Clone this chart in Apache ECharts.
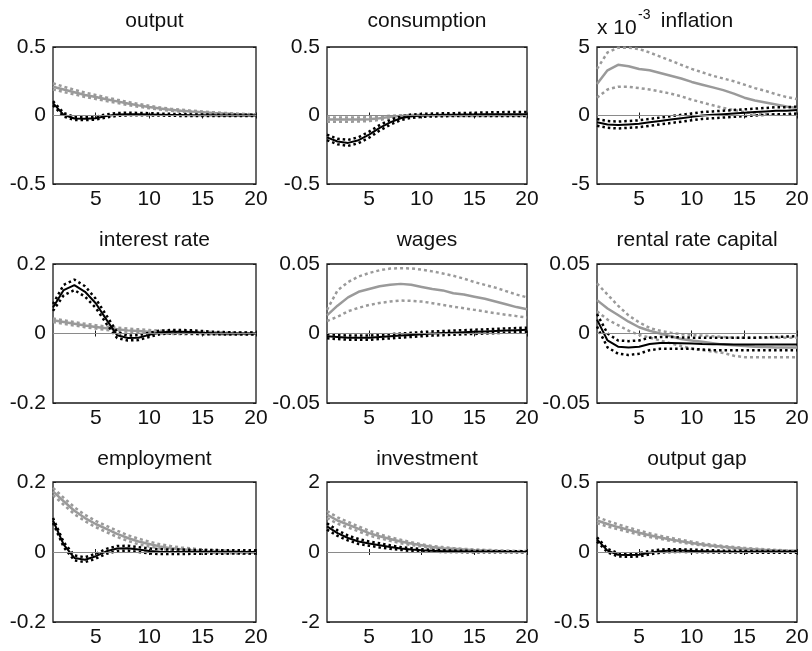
<!DOCTYPE html>
<html>
<head>
<meta charset="utf-8">
<script src="https://cdn.jsdelivr.net/npm/echarts@6/dist/echarts.min.js"></script>
<style>
  html, body { margin: 0; padding: 0; background: #fff; }
  #chart { width: 812px; height: 651px; }
</style>
</head>
<body>
<div id="chart"></div>
<script>
// Impulse responses over 20 quarters: grey = model A (mean and bands), black = model B (mean and bands)
const horizons = [1, 2, 3, 4, 5, 6, 7, 8, 9, 10, 11, 12, 13, 14, 15, 16, 17, 18, 19, 20];
const xTicks = [5, 10, 15, 20];

// output
const outGrayMid = [0.21, 0.19, 0.17, 0.15, 0.135, 0.118, 0.103, 0.088, 0.074, 0.062, 0.051, 0.042, 0.035, 0.029, 0.024, 0.019, 0.015, 0.011, 0.008, 0.006];
const outGrayHi  = [0.235, 0.21, 0.188, 0.167, 0.15, 0.132, 0.115, 0.099, 0.084, 0.071, 0.059, 0.05, 0.042, 0.035, 0.029, 0.024, 0.019, 0.015, 0.011, 0.009];
const outGrayLo  = [0.19, 0.172, 0.154, 0.135, 0.121, 0.105, 0.091, 0.077, 0.064, 0.053, 0.043, 0.035, 0.028, 0.023, 0.019, 0.014, 0.011, 0.008, 0.005, 0.003];
const outBlackMid = [0.09, 0.005, -0.022, -0.024, -0.02, -0.004, 0.007, 0.01, 0.01, 0.008, 0.006, 0.004, 0.003, 0.002, 0.001, 0.001, 0, 0, 0, 0];
const outBlackHi  = [0.105, 0.018, -0.01, -0.012, -0.008, 0.008, 0.018, 0.02, 0.019, 0.017, 0.014, 0.012, 0.01, 0.008, 0.007, 0.006, 0.005, 0.005, 0.005, 0.005];
const outBlackLo  = [0.075, -0.008, -0.032, -0.034, -0.03, -0.014, -0.003, 0.001, 0.002, 0.001, 0, -0.002, -0.003, -0.003, -0.004, -0.004, -0.004, -0.004, -0.004, -0.004];

// consumption
const conGrayMid = [-0.03, -0.03, -0.03, -0.03, -0.028, -0.02, -0.01, -0.004, -0.001, 0, 0, 0, 0, 0, 0, 0, 0, 0, 0, 0];
const conGrayHi  = [-0.015, -0.015, -0.015, -0.015, -0.013, -0.008, -0.002, 0.002, 0.003, 0.003, 0.003, 0.003, 0.003, 0.003, 0.003, 0.003, 0.003, 0.003, 0.003, 0.003];
const conGrayLo  = [-0.045, -0.045, -0.045, -0.044, -0.041, -0.032, -0.018, -0.009, -0.005, -0.003, -0.003, -0.003, -0.003, -0.003, -0.003, -0.003, -0.003, -0.003, -0.003, -0.003];
const conBlackMid = [-0.16, -0.19, -0.2, -0.18, -0.14, -0.09, -0.05, -0.02, -0.005, 0, 0.003, 0.005, 0.006, 0.007, 0.008, 0.009, 0.01, 0.01, 0.01, 0.01];
const conBlackHi  = [-0.14, -0.17, -0.178, -0.158, -0.118, -0.07, -0.032, -0.006, 0.007, 0.011, 0.014, 0.016, 0.017, 0.018, 0.02, 0.022, 0.024, 0.025, 0.026, 0.026];
const conBlackLo  = [-0.18, -0.21, -0.222, -0.202, -0.162, -0.11, -0.068, -0.034, -0.017, -0.01, -0.007, -0.005, -0.004, -0.003, -0.003, -0.003, -0.003, -0.003, -0.003, -0.003];

// inflation, in units of 10^-3
const infGrayMid = [2.3, 3.3, 3.7, 3.6, 3.4, 3.3, 3.1, 2.9, 2.7, 2.45, 2.25, 2.05, 1.85, 1.6, 1.3, 1.1, 0.95, 0.8, 0.65, 0.55];
const infGrayHi  = [3.4, 4.6, 4.95, 4.95, 4.85, 4.6, 4.3, 4.0, 3.7, 3.4, 3.15, 2.9, 2.7, 2.5, 2.25, 2.0, 1.8, 1.55, 1.35, 1.2];
const infGrayLo  = [1.3, 1.9, 2.1, 2.1, 2.0, 1.9, 1.75, 1.6, 1.4, 1.15, 0.95, 0.75, 0.55, 0.4, 0.25, 0.15, 0.1, 0.05, 0.05, 0.05];
const infBlackMid = [-0.5, -0.65, -0.7, -0.65, -0.6, -0.5, -0.4, -0.3, -0.2, -0.1, 0, 0.05, 0.1, 0.15, 0.2, 0.25, 0.3, 0.35, 0.35, 0.4];
const infBlackHi  = [-0.25, -0.4, -0.45, -0.4, -0.35, -0.25, -0.15, -0.05, 0.05, 0.15, 0.25, 0.3, 0.35, 0.4, 0.45, 0.5, 0.55, 0.6, 0.6, 0.65];
const infBlackLo  = [-0.75, -0.9, -0.95, -0.9, -0.85, -0.75, -0.65, -0.55, -0.45, -0.35, -0.25, -0.2, -0.15, -0.1, -0.05, 0, 0.05, 0.1, 0.1, 0.15];

// interest rate
const irGrayMid = [0.038, 0.033, 0.028, 0.023, 0.019, 0.015, 0.012, 0.009, 0.007, 0.005, 0.004, 0.003, 0.002, 0.002, 0.001, 0.001, 0.001, 0, 0, 0];
const irGrayHi  = [0.043, 0.038, 0.033, 0.028, 0.024, 0.02, 0.017, 0.014, 0.012, 0.01, 0.008, 0.007, 0.006, 0.005, 0.004, 0.004, 0.003, 0.003, 0.003, 0.003];
const irGrayLo  = [0.033, 0.028, 0.023, 0.018, 0.014, 0.01, 0.007, 0.005, 0.003, 0.001, 0, -0.001, -0.002, -0.002, -0.002, -0.002, -0.002, -0.002, -0.002, -0.002];
const irBlackMid = [0.075, 0.125, 0.139, 0.12, 0.087, 0.04, -0.005, -0.013, -0.012, -0.004, 0.003, 0.005, 0.005, 0.004, 0.002, 0.001, 0, 0, 0, 0];
const irBlackHi  = [0.085, 0.14, 0.155, 0.136, 0.1, 0.052, 0.004, -0.006, -0.005, 0.002, 0.008, 0.01, 0.01, 0.009, 0.007, 0.005, 0.004, 0.003, 0.003, 0.003];
const irBlackLo  = [0.065, 0.11, 0.125, 0.106, 0.074, 0.028, -0.013, -0.02, -0.019, -0.01, -0.002, 0, 0, 0, -0.002, -0.002, -0.003, -0.003, -0.003, -0.003];

// wages
const wgGrayMid = [0.013, 0.02, 0.026, 0.03, 0.032, 0.034, 0.035, 0.0357, 0.035, 0.0335, 0.032, 0.031, 0.029, 0.028, 0.0265, 0.025, 0.023, 0.021, 0.019, 0.0175];
const wgGrayHi  = [0.017, 0.031, 0.037, 0.041, 0.0435, 0.0455, 0.0467, 0.047, 0.0468, 0.046, 0.0447, 0.0432, 0.0415, 0.0395, 0.037, 0.035, 0.033, 0.0305, 0.028, 0.026];
const wgGrayLo  = [0.009, 0.012, 0.016, 0.0185, 0.0205, 0.022, 0.023, 0.0237, 0.0235, 0.023, 0.0218, 0.0205, 0.0193, 0.0182, 0.017, 0.0158, 0.0146, 0.0135, 0.0125, 0.0115];
const wgBlackMid = [-0.002, -0.0025, -0.003, -0.003, -0.003, -0.0025, -0.002, -0.0015, -0.001, -0.0005, 0, 0.0003, 0.0006, 0.0009, 0.0012, 0.0015, 0.0018, 0.0021, 0.0024, 0.0027];
const wgBlackHi  = [-0.0005, -0.001, -0.0015, -0.0015, -0.0015, -0.001, -0.0005, 0, 0.0005, 0.001, 0.0015, 0.0018, 0.0021, 0.0024, 0.0027, 0.003, 0.0033, 0.0036, 0.0039, 0.0042];
const wgBlackLo  = [-0.0035, -0.004, -0.0045, -0.0045, -0.0045, -0.004, -0.0035, -0.003, -0.0025, -0.002, -0.0015, -0.0012, -0.0009, -0.0006, -0.0003, 0, 0.0003, 0.0006, 0.0009, 0.0012];

// rental rate of capital
const rrGrayMid = [0.024, 0.018, 0.0133, 0.0085, 0.0045, 0.002, 0, -0.002, -0.004, -0.005, -0.006, -0.007, -0.008, -0.0085, -0.009, -0.0095, -0.0098, -0.01, -0.01, -0.01];
const rrGrayHi  = [0.036, 0.028, 0.02, 0.013, 0.008, 0.004, 0.002, 0.0005, -0.0005, -0.001, -0.0015, -0.002, -0.0025, -0.003, -0.003, -0.003, -0.003, -0.003, -0.003, -0.003];
const rrGrayLo  = [0.016, 0.01, 0.006, 0.002, -0.001, -0.003, -0.005, -0.007, -0.009, -0.011, -0.012, -0.013, -0.014, -0.016, -0.017, -0.017, -0.017, -0.017, -0.017, -0.017];
const rrBlackMid = [0.01, -0.005, -0.0095, -0.01, -0.0095, -0.0075, -0.0068, -0.0068, -0.007, -0.0072, -0.0075, -0.0077, -0.0078, -0.008, -0.008, -0.008, -0.008, -0.008, -0.008, -0.008];
const rrBlackHi  = [0.014, 0.0, -0.005, -0.0055, -0.005, -0.003, -0.0025, -0.0025, -0.0028, -0.003, -0.003, -0.003, -0.003, -0.003, -0.003, -0.003, -0.0028, -0.0025, -0.0022, -0.002];
const rrBlackLo  = [0.005, -0.01, -0.0145, -0.0155, -0.0145, -0.012, -0.011, -0.011, -0.011, -0.011, -0.0115, -0.012, -0.012, -0.012, -0.012, -0.012, -0.012, -0.012, -0.012, -0.012];

// employment
const emGrayMid = [0.173, 0.145, 0.118, 0.097, 0.08, 0.066, 0.052, 0.04, 0.03, 0.023, 0.016, 0.011, 0.008, 0.005, 0.003, 0.002, 0.001, -0.001, -0.002, -0.002];
const emGrayHi  = [0.183, 0.155, 0.128, 0.106, 0.089, 0.075, 0.061, 0.048, 0.038, 0.03, 0.022, 0.017, 0.013, 0.01, 0.007, 0.005, 0.004, 0.002, 0.001, 0.001];
const emGrayLo  = [0.163, 0.135, 0.108, 0.088, 0.071, 0.057, 0.043, 0.032, 0.022, 0.016, 0.01, 0.005, 0.003, 0.0, -0.001, -0.002, -0.003, -0.004, -0.005, -0.005];
const emBlackMid = [0.09, 0.021, -0.017, -0.022, -0.012, 0.002, 0.01, 0.011, 0.007, 0.003, 0.001, 0, 0, 0, 0, 0, 0, 0, 0, 0];
const emBlackHi  = [0.097, 0.028, -0.01, -0.015, -0.005, 0.009, 0.017, 0.018, 0.014, 0.01, 0.008, 0.007, 0.007, 0.006, 0.006, 0.006, 0.005, 0.005, 0.005, 0.005];
const emBlackLo  = [0.083, 0.014, -0.024, -0.029, -0.019, -0.005, 0.003, 0.004, 0.0, -0.004, -0.006, -0.006, -0.006, -0.005, -0.005, -0.005, -0.005, -0.004, -0.004, -0.004];

// investment
const invGrayMid = [1.07, 0.9, 0.78, 0.66, 0.54, 0.45, 0.37, 0.3, 0.24, 0.19, 0.14, 0.11, 0.09, 0.07, 0.05, 0.04, 0.03, 0.02, 0.015, 0.01];
const invGrayHi  = [1.17, 0.99, 0.86, 0.73, 0.61, 0.51, 0.42, 0.35, 0.28, 0.22, 0.17, 0.14, 0.11, 0.09, 0.07, 0.06, 0.05, 0.04, 0.03, 0.03];
const invGrayLo  = [0.97, 0.81, 0.7, 0.59, 0.47, 0.39, 0.32, 0.25, 0.2, 0.16, 0.11, 0.08, 0.07, 0.05, 0.03, 0.02, 0.01, 0, 0, -0.01];
const invBlackMid = [0.73, 0.54, 0.4, 0.3, 0.24, 0.19, 0.14, 0.1, 0.07, 0.05, 0.035, 0.025, 0.02, 0.015, 0.01, 0.008, 0.006, 0.004, 0.003, 0.002];
const invBlackHi  = [0.82, 0.62, 0.47, 0.37, 0.3, 0.25, 0.19, 0.14, 0.11, 0.08, 0.06, 0.05, 0.04, 0.035, 0.03, 0.025, 0.02, 0.02, 0.02, 0.02];
const invBlackLo  = [0.64, 0.46, 0.33, 0.23, 0.18, 0.13, 0.09, 0.06, 0.03, 0.02, 0.01, 0, 0, -0.005, -0.01, -0.01, -0.01, -0.01, -0.01, -0.01];

// output gap
const ogGrayMid = [0.225, 0.2, 0.178, 0.158, 0.138, 0.12, 0.104, 0.09, 0.077, 0.065, 0.054, 0.045, 0.037, 0.03, 0.024, 0.019, 0.015, 0.011, 0.008, 0.006];
const ogGrayHi  = [0.25, 0.222, 0.197, 0.175, 0.153, 0.134, 0.116, 0.101, 0.087, 0.074, 0.062, 0.052, 0.043, 0.036, 0.029, 0.024, 0.019, 0.015, 0.011, 0.009];
const ogGrayLo  = [0.205, 0.182, 0.162, 0.143, 0.124, 0.107, 0.093, 0.08, 0.068, 0.057, 0.047, 0.039, 0.031, 0.025, 0.019, 0.015, 0.011, 0.008, 0.005, 0.003];
const ogBlackMid = [0.09, 0.01, -0.02, -0.022, -0.02, -0.005, 0.006, 0.01, 0.01, 0.008, 0.006, 0.004, 0.003, 0.002, 0.001, 0.001, 0.001, 0.001, 0.001, 0.001];
const ogBlackHi  = [0.105, 0.022, -0.008, -0.01, -0.008, 0.007, 0.017, 0.02, 0.019, 0.017, 0.014, 0.012, 0.01, 0.009, 0.008, 0.008, 0.007, 0.007, 0.007, 0.007];
const ogBlackLo  = [0.075, -0.002, -0.032, -0.034, -0.032, -0.017, -0.005, 0.0, 0.001, 0.0, -0.002, -0.003, -0.004, -0.004, -0.005, -0.005, -0.005, -0.005, -0.005, -0.005];

// panel definitions (title, y-range, and the six response curves)
const panels = [
  { title: 'output',              yMin: -0.5,  yMax: 0.5,  yStep: 0.5,  gray: [outGrayLo, outGrayMid, outGrayHi], black: [outBlackLo, outBlackMid, outBlackHi] },
  { title: 'consumption',         yMin: -0.5,  yMax: 0.5,  yStep: 0.5,  gray: [conGrayLo, conGrayMid, conGrayHi], black: [conBlackLo, conBlackMid, conBlackHi] },
  { title: 'inflation',           yMin: -5,    yMax: 5,    yStep: 5,    gray: [infGrayLo, infGrayMid, infGrayHi], black: [infBlackLo, infBlackMid, infBlackHi], exponent: '-3' },
  { title: 'interest rate',       yMin: -0.2,  yMax: 0.2,  yStep: 0.2,  gray: [irGrayLo, irGrayMid, irGrayHi],    black: [irBlackLo, irBlackMid, irBlackHi] },
  { title: 'wages',               yMin: -0.05, yMax: 0.05, yStep: 0.05, gray: [wgGrayLo, wgGrayMid, wgGrayHi],    black: [wgBlackLo, wgBlackMid, wgBlackHi] },
  { title: 'rental rate capital', yMin: -0.05, yMax: 0.05, yStep: 0.05, gray: [rrGrayLo, rrGrayMid, rrGrayHi],    black: [rrBlackLo, rrBlackMid, rrBlackHi] },
  { title: 'employment',          yMin: -0.2,  yMax: 0.2,  yStep: 0.2,  gray: [emGrayLo, emGrayMid, emGrayHi],    black: [emBlackLo, emBlackMid, emBlackHi] },
  { title: 'investment',          yMin: -2,    yMax: 2,    yStep: 2,    gray: [invGrayLo, invGrayMid, invGrayHi], black: [invBlackLo, invBlackMid, invBlackHi] },
  { title: 'output gap',          yMin: -0.5,  yMax: 0.5,  yStep: 0.5,  gray: [ogGrayLo, ogGrayMid, ogGrayHi],    black: [ogBlackLo, ogBlackMid, ogBlackHi] }
];

// layout of the 3x3 grid (pixels)
const colLeft = [53, 327, 597];
const colWidth = [203, 200, 200];
const rowTop = [47, 264, 482];
const rowHeight = [137, 139, 140];
const titleY = [21, 240, 459];

const FONT = '"Liberation Sans", Arial, Helvetica, sans-serif';
const FONT_SIZE = 21;
const GRAY = '#9a9a9a';
const BLACK = '#000';

const toPoints = arr => horizons.map((h, i) => [h, arr[i]]);

const grids = [], xAxes = [], yAxes = [], series = [], graphics = [];

panels.forEach((p, k) => {
  const r = Math.floor(k / 3), c = k % 3;
  grids.push({
    left: colLeft[c], top: rowTop[r], width: colWidth[c], height: rowHeight[r],
    show: true, borderColor: '#1a1a1a', borderWidth: 1.3, backgroundColor: '#fff'
  });
  const tick = { show: true, inside: true, length: 3, lineStyle: { color: '#1a1a1a', width: 1 } };
  // bottom x axis with labels
  xAxes.push({
    gridIndex: k, type: 'value', min: 1, max: 20, position: 'bottom',
    axisLine: { show: false }, splitLine: { show: false },
    axisTick: Object.assign({ customValues: xTicks }, tick),
    axisLabel: { customValues: xTicks, color: '#111', fontFamily: FONT, fontSize: FONT_SIZE, margin: 5 }
  });
  // top x axis, ticks only
  xAxes.push({
    gridIndex: k, type: 'value', min: 1, max: 20, position: 'top',
    axisLine: { show: false }, splitLine: { show: false },
    axisTick: Object.assign({ customValues: xTicks }, tick),
    axisLabel: { show: false }
  });
  // left y axis with labels
  yAxes.push({
    gridIndex: k, type: 'value', min: p.yMin, max: p.yMax, interval: p.yStep, position: 'left',
    axisLine: { show: false }, splitLine: { show: false }, axisTick: tick,
    axisLabel: { color: '#111', fontFamily: FONT, fontSize: FONT_SIZE, margin: 7 }
  });
  // right y axis, ticks only
  yAxes.push({
    gridIndex: k, type: 'value', min: p.yMin, max: p.yMax, interval: p.yStep, position: 'right',
    axisLine: { show: false }, splitLine: { show: false }, axisTick: tick,
    axisLabel: { show: false }
  });

  const xi = 2 * k, yi = 2 * k;
  // zero reference line
  series.push({
    type: 'line', xAxisIndex: xi, yAxisIndex: yi, data: [], silent: true,
    markLine: {
      silent: true, symbol: 'none', label: { show: false },
      lineStyle: { color: '#8a8a8a', width: 1.2, type: 'solid' },
      data: [{ yAxis: 0 }]
    }
  });
  const addLine = (arr, color, width, dash) => series.push({
    type: 'line', xAxisIndex: xi, yAxisIndex: yi, data: toPoints(arr),
    showSymbol: false, symbol: 'none', silent: true, animation: false,
    lineStyle: { color: color, width: width, type: dash || 'solid', cap: 'butt' }
  });
  // grey model: bands then mean
  addLine(p.gray[0], GRAY, 2.5, [3, 3]);
  addLine(p.gray[2], GRAY, 2.5, [3, 3]);
  addLine(p.gray[1], GRAY, 2.5);
  // black model: bands then mean
  addLine(p.black[0], BLACK, 2.5, [2.5, 3]);
  addLine(p.black[2], BLACK, 2.5, [2.5, 3]);
  addLine(p.black[1], BLACK, 2);

  // panel title
  graphics.push({
    type: 'text', x: colLeft[c] + colWidth[c] / 2, y: titleY[r],
    style: { text: p.title, fill: '#111', font: FONT_SIZE + 'px ' + FONT, textAlign: 'center', textVerticalAlign: 'middle' }
  });
  if (p.exponent) {
    graphics.push({
      type: 'text', x: colLeft[c], y: titleY[r] + 7,
      style: { text: 'x 10', fill: '#111', font: FONT_SIZE + 'px ' + FONT, textAlign: 'left', textVerticalAlign: 'middle' }
    });
    graphics.push({
      type: 'text', x: colLeft[c] + 41, y: titleY[r] - 6,
      style: { text: p.exponent, fill: '#111', font: '14px ' + FONT, textAlign: 'left', textVerticalAlign: 'middle' }
    });
  }
});

const chart = echarts.init(document.getElementById('chart'), null, { renderer: 'canvas' });
chart.setOption({
  animation: false,
  backgroundColor: '#fff',
  grid: grids,
  xAxis: xAxes,
  yAxis: yAxes,
  series: series,
  graphic: graphics
});
</script>
</body>
</html>
